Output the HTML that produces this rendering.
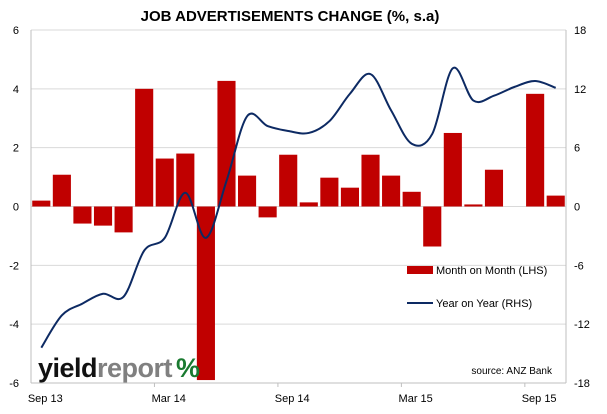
<!DOCTYPE html>
<html><head><meta charset="utf-8"><style>
body{margin:0;background:#fff;width:607px;height:409px;overflow:hidden}
svg text{font-family:"Liberation Sans",sans-serif}
</style></head><body>
<svg width="607" height="409">
<text x="290" y="21" text-anchor="middle" font-size="15" font-weight="bold">JOB ADVERTISEMENTS CHANGE (%, s.a)</text>
<g id="grid"></g>
<g id="bars"></g>
<path id="line" fill="none" stroke="#0d2a63" stroke-width="2"/>
<g id="axes"></g>
<rect x="407" y="266" width="26" height="8" fill="#c00000"/>
<text x="436" y="274" font-size="11">Month on Month (LHS)</text>
<line x1="407" y1="303" x2="433" y2="303" stroke="#0d2a63" stroke-width="2"/>
<text x="436" y="307" font-size="11">Year on Year (RHS)</text>
<text x="552" y="374" font-size="10" text-anchor="end">source: ANZ Bank</text>
<text x="38" y="377" font-size="27" font-weight="bold" letter-spacing="-0.5"><tspan fill="#111">yield</tspan><tspan fill="#808080">report</tspan><tspan fill="#1a7a30" dx="4">%</tspan></text>
</svg>
<script>
const months=["Sep 13","Oct 13","Nov 13","Dec 13","Jan 14","Feb 14","Mar 14","Apr 14","May 14","Jun 14","Jul 14","Aug 14","Sep 14","Oct 14","Nov 14","Dec 14","Jan 15","Feb 15","Mar 15","Apr 15","May 15","Jun 15","Jul 15","Aug 15","Sep 15","Oct 15"];
const momValues=[0.2,1.08,-0.58,-0.65,-0.88,4.0,1.63,1.8,-5.9,4.27,1.05,-0.37,1.76,0.14,0.98,0.64,1.76,1.05,0.5,-1.36,2.5,0.07,1.25,0,3.83,0.37];
const yoyValues=[-14.4,-11.1,-9.9,-8.9,-9.2,-4.5,-3.2,1.4,-3.2,2.6,9.2,8.2,7.7,7.5,8.7,11.5,13.5,9.8,6.4,7.4,14.1,10.8,11.3,12.2,12.8,12.1];
const xLabels=["Sep 13","Mar 14","Sep 14","Mar 15","Sep 15"];
const lhsTicks=[-6,-4,-2,0,2,4,6];
const rhsTicks=[-18,-12,-6,0,6,12,18];
const L=31,R=566,T=30,B=383,NS="http://www.w3.org/2000/svg";
const slot=(R-L)/months.length;
const xc=i=>L+(i+0.5)*slot;
const yL=v=>T+(6-v)/12*(B-T);
const yR=v=>T+(18-v)/36*(B-T);
function mk(tag,attrs,parent){const e=document.createElementNS(NS,tag);for(const k in attrs)e.setAttribute(k,attrs[k]);parent.appendChild(e);return e;}
const grid=document.getElementById('grid'),axes=document.getElementById('axes'),bars=document.getElementById('bars');
lhsTicks.forEach(v=>{
  const g=mk('line',{x1:L,x2:R,y1:yL(v),y2:yL(v),stroke:'#d9d9d9','stroke-width':1},grid);
  
  
  const t=mk('text',{x:19,y:yL(v)+4,'font-size':11,'text-anchor':'end'},axes);t.textContent=v;
  
  
});
rhsTicks.forEach(v=>{
  const t=mk('text',{x:574,y:yR(v)+4,'font-size':11},axes);t.textContent=v;
  
  
});
const la=mk('line',{x1:L,x2:L,y1:T,y2:B,stroke:'#bfbfbf'},axes);


const ra=mk('line',{x1:R,x2:R,y1:T,y2:B,stroke:'#bfbfbf'},axes);


const ba=mk('line',{x1:L,x2:R,y1:B,y2:B,stroke:'#bfbfbf'},axes);


xLabels.forEach(lb=>{
  const i=months.indexOf(lb);
  const tk=mk('line',{x1:L+(i+6)*slot,x2:L+(i+6)*slot,y1:B,y2:B+4,stroke:'#bfbfbf'},axes);
  
  
  const t=mk('text',{x:xc(i)+4,y:402,'font-size':11,'text-anchor':'middle'},axes);t.textContent=lb;
  
  
});
momValues.forEach((v,i)=>{
  const y0=yL(0),y1=yL(v);
  const r=mk('rect',{x:xc(i)-slot*0.44,width:slot*0.88,y:Math.min(y0,y1),height:Math.abs(y1-y0),fill:'#c00000'},bars);
  
  
});
const pts=yoyValues.map((v,i)=>[xc(i),yR(v)]);
let d='M'+pts[0][0]+','+pts[0][1];
for(let i=0;i<pts.length-1;i++){
  const p0=pts[Math.max(0,i-1)],p1=pts[i],p2=pts[i+1],p3=pts[Math.min(pts.length-1,i+2)];
  const k=1/6;
  d+=' C'+(p1[0]+(p2[0]-p0[0])*k)+','+(p1[1]+(p2[1]-p0[1])*k)+' '+(p2[0]-(p3[0]-p1[0])*k)+','+(p2[1]-(p3[1]-p1[1])*k)+' '+p2[0]+','+p2[1];
}
document.getElementById('line').setAttribute('d',d);
</script>
</body></html>
